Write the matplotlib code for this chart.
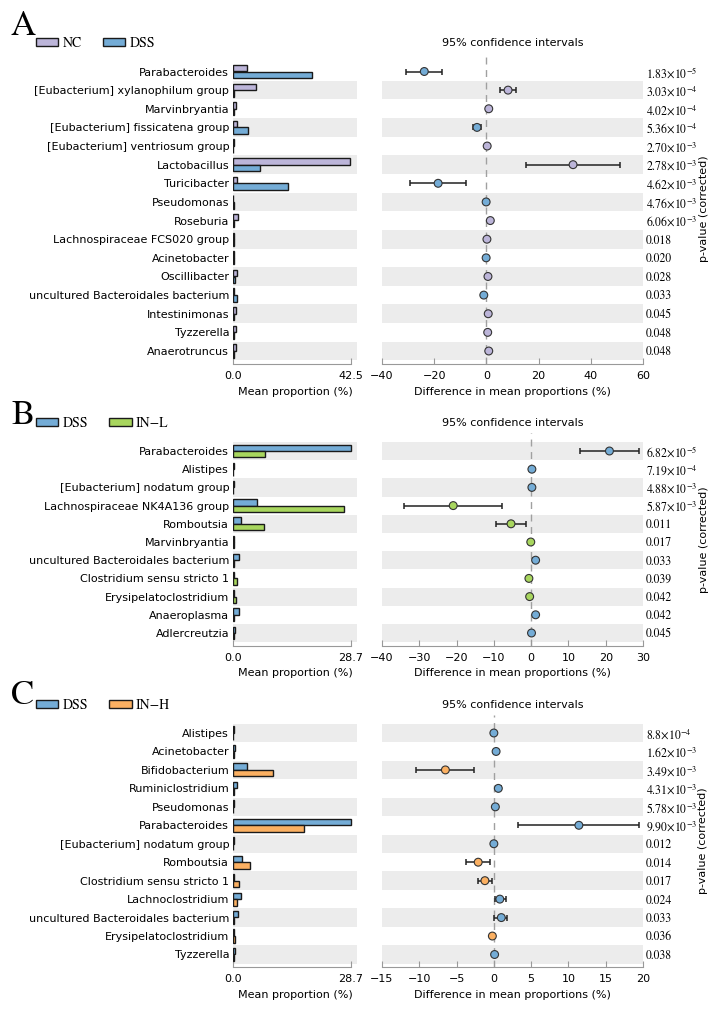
import matplotlib
matplotlib.use('Agg')
import matplotlib.pyplot as plt
import numpy as np

plt.rcParams['mathtext.fontset'] = 'stix'

# ---- panel A: NC vs DSS ----
A_taxa = ['Parabacteroides', '[Eubacterium] xylanophilum group', 'Marvinbryantia',
          '[Eubacterium] fissicatena group', '[Eubacterium] ventriosum group', 'Lactobacillus',
          'Turicibacter', 'Pseudomonas', 'Roseburia', 'Lachnospiraceae FCS020 group',
          'Acinetobacter', 'Oscillibacter', 'uncultured Bacteroidales bacterium',
          'Intestinimonas', 'Tyzzerella', 'Anaerotruncus']
A_nc = [4.8, 8.2, 1.0, 1.4, 0.3, 42.2, 1.2, 0.05, 1.8, 0.3, 0.1, 1.2, 0.4, 1.0, 0.8, 1.1]
A_dss = [28.5, 0.1, 0.1, 5.2, 0.05, 9.6, 19.8, 0.15, 0.3, 0.1, 0.3, 0.6, 1.4, 0.3, 0.3, 0.3]
A_diff = [-23.8, 8.3, 0.9, -3.6, 0.3, 33.2, -18.5, -0.1, 1.5, 0.2, -0.1, 0.6, -1.0, 0.7, 0.5, 0.9]
A_lo = [-30.8, 5.4, 0.6, -5.1, 0.1, 15.2, -29.4, -0.3, 1.0, 0.0, -0.3, 0.3, -1.5, 0.4, 0.3, 0.6]
A_hi = [-16.9, 11.2, 1.2, -2.0, 0.5, 51.2, -7.7, 0.1, 2.0, 0.4, 0.1, 0.9, -0.5, 1.0, 0.7, 1.2]
A_p = ['1.83e-5', '3.03e-4', '4.02e-4', '5.36e-4', '2.70e-3', '2.78e-3', '4.62e-3', '4.76e-3',
       '6.06e-3', '0.018', '0.020', '0.028', '0.033', '0.045', '0.048', '0.048']

# ---- panel B: DSS vs IN-L ----
B_taxa = ['Parabacteroides', 'Alistipes', '[Eubacterium] nodatum group',
          'Lachnospiraceae NK4A136 group', 'Romboutsia', 'Marvinbryantia',
          'uncultured Bacteroidales bacterium', 'Clostridium sensu stricto 1',
          'Erysipelatoclostridium', 'Anaeroplasma', 'Adlercreutzia']
B_dss = [28.6, 0.2, 0.2, 5.9, 1.9, 0.05, 1.3, 0.1, 0.2, 1.3, 0.3]
B_inl = [7.8, 0.0, 0.0, 26.9, 7.5, 0.1, 0.1, 0.8, 0.6, 0.1, 0.2]
B_diff = [21.0, 0.2, 0.2, -20.9, -5.4, -0.1, 1.2, -0.6, -0.4, 1.2, 0.1]
B_lo = [13.1, 0.1, 0.1, -34.1, -9.4, -0.2, 0.6, -1.0, -0.7, 0.7, 0.0]
B_hi = [29.0, 0.3, 0.3, -7.9, -1.5, 0.0, 1.8, -0.2, -0.1, 1.7, 0.2]
B_p = ['6.82e-5', '7.19e-4', '4.88e-3', '5.87e-3', '0.011', '0.017', '0.033', '0.039',
       '0.042', '0.042', '0.045']

# ---- panel C: DSS vs IN-H ----
C_taxa = ['Alistipes', 'Acinetobacter', 'Bifidobacterium', 'Ruminiclostridium', 'Pseudomonas',
          'Parabacteroides', '[Eubacterium] nodatum group', 'Romboutsia',
          'Clostridium sensu stricto 1', 'Lachnoclostridium', 'uncultured Bacteroidales bacterium',
          'Erysipelatoclostridium', 'Tyzzerella']
C_dss = [0.1, 0.3, 3.3, 0.9, 0.2, 28.6, 0.1, 2.0, 0.1, 1.8, 1.1, 0.1, 0.3]
C_inh = [0.0, 0.1, 9.7, 0.2, 0.0, 17.3, 0.0, 4.1, 1.3, 1.0, 0.1, 0.3, 0.2]
C_diff = [0.0, 0.3, -6.5, 0.6, 0.2, 11.4, 0.0, -2.1, -1.2, 0.8, 1.0, -0.2, 0.1]
C_lo = [-0.1, 0.1, -10.5, 0.3, 0.1, 3.2, -0.1, -3.7, -2.1, 0.1, 0.0, -0.4, 0.0]
C_hi = [0.1, 0.5, -2.6, 0.9, 0.3, 19.5, 0.1, -0.5, -0.3, 1.6, 1.8, 0.0, 0.2]
C_p = ['8.8e-4', '1.62e-3', '3.49e-3', '4.31e-3', '5.78e-3', '9.90e-3', '0.012', '0.014',
       '0.017', '0.024', '0.033', '0.036', '0.038']

NC_COL = '#bcb5d9'
DSS_COL = '#74acd6'
INL_COL = '#a8d65e'
INH_COL = '#fbb062'
STRIPE = '#ececec'
EDGE = '#1a1a1a'

W, H = 715, 1015
fig = plt.figure(figsize=(7.15, 10.15), dpi=100)


def fx(px):
    return px / W


def fy(py):
    return 1 - py / H


def fmt_p(p):
    if 'e' in p:
        m, e = p.split('e')
        return r'$%s{\times}10^{%s}$' % (m, e)
    return p


def panel(taxa, g1, g2, diff, lo, hi, pvals, names, cols, bar_max, ci_lim, ci_step,
          row0, rown, letter, letter_x, letter_y):
    n = len(taxa)
    s = (rown - row0) / (n - 1)
    top = row0 - 1.0 * s
    bot = rown + 0.7 * s
    y = np.arange(n)[::-1]
    ylim = (-0.7, n - 1 + 1.0)
    g1 = np.array(g1)
    g2 = np.array(g2)
    diff = np.array(diff)
    lo = np.array(lo)
    hi = np.array(hi)

    # mean proportion bars
    axb = fig.add_axes([fx(233.3), fy(bot), fx(357) - fx(233.3), (bot - top) / H])
    for yy in y:
        if yy % 2 == 0:
            axb.axhspan(yy - 0.5, yy + 0.5, color=STRIPE, lw=0, zorder=0)
    b1 = axb.barh(y + 0.18, g1, height=0.35, color=cols[0], edgecolor=EDGE, lw=1, zorder=2)
    b2 = axb.barh(y - 0.18, g2, height=0.35, color=cols[1], edgecolor=EDGE, lw=1, zorder=2)
    axb.set_ylim(*ylim)
    axb.set_xlim(0, bar_max * 124 / 118)
    axb.set_yticks(y)
    axb.set_yticklabels(taxa, fontsize=8)
    axb.tick_params(axis='y', length=0, pad=3)
    axb.set_xticks([0, bar_max])
    axb.set_xticklabels(['0.0', '%.1f' % bar_max])
    axb.tick_params(axis='x', direction='in', length=4, color='#999999', labelsize=8, pad=5)
    for sp in ['left', 'right', 'top']:
        axb.spines[sp].set_visible(False)
    axb.spines['bottom'].set_color('#999999')
    axb.spines['bottom'].set_bounds(0, bar_max)
    axb.set_xlabel('Mean proportion (%)', fontsize=8, labelpad=4)

    # confidence intervals
    axc = fig.add_axes([fx(382), fy(bot), fx(643) - fx(382), (bot - top) / H])
    for yy in y:
        if yy % 2 == 0:
            axc.axhspan(yy - 0.5, yy + 0.5, color=STRIPE, lw=0, zorder=0)
    axc.axvline(0, color='#a0a0a0', ls=(0, (5, 4)), lw=1, zorder=1)
    axc.errorbar(diff, y, xerr=[diff - lo, hi - diff], fmt='none', ecolor='#222222',
                 elinewidth=1.1, capsize=2.5, capthick=1.1, zorder=2)
    pcol = [cols[0] if d >= 0 else cols[1] for d in diff]
    axc.scatter(diff, y, s=32, c=pcol, edgecolors='#333333', linewidths=0.8, zorder=3)
    axc.set_ylim(*ylim)
    axc.set_xlim(*ci_lim)
    axc.set_xticks(np.arange(ci_lim[0], ci_lim[1] + 0.1, ci_step))
    axc.set_yticks([])
    axc.tick_params(axis='x', direction='in', length=4, color='#999999', labelsize=8, pad=5)
    for sp in ['left', 'right', 'top']:
        axc.spines[sp].set_visible(False)
    axc.spines['bottom'].set_color('#999999')
    axc.set_xlabel('Difference in mean proportions (%)', fontsize=8, labelpad=4)
    fig.text(fx(512.5), fy(row0 - 28), '95% confidence intervals', ha='center', va='center',
             fontsize=8)

    # p-values on the right
    axp = axc.twinx()
    axp.set_ylim(*ylim)
    axp.set_yticks(y)
    axp.set_yticklabels([fmt_p(p) for p in pvals], fontsize=8.5, family='STIXGeneral')
    axp.tick_params(axis='y', length=0, pad=2)
    for sp in axp.spines.values():
        sp.set_visible(False)
    axp.set_ylabel('p-value (corrected)', fontsize=8, labelpad=1)

    fig.legend(handles=[b1, b2], labels=names, loc='center left',
               bbox_to_anchor=(fx(36), fy(row0 - 28)), ncol=2, frameon=False,
               prop={'family': 'STIXGeneral', 'size': 10}, handlelength=1.6,
               handleheight=0.5, handletextpad=0.3, columnspacing=1.55,
               borderpad=0, borderaxespad=0)
    fig.text(fx(letter_x), fy(letter_y), letter, fontsize=25, family='STIXGeneral',
             va='baseline', ha='left')


panel(A_taxa, A_nc, A_dss, A_diff, A_lo, A_hi, A_p, ['NC', 'DSS'], [NC_COL, DSS_COL],
      42.5, (-40, 60), 20, 71.5, 351, 'A', 10, 35)
panel(B_taxa, B_dss, B_inl, B_diff, B_lo, B_hi, B_p, ['DSS', 'IN\u2212L'], [DSS_COL, INL_COL],
      28.7, (-40, 30), 10, 451, 633, 'B', 11, 424)
panel(C_taxa, C_dss, C_inh, C_diff, C_lo, C_hi, C_p, ['DSS', 'IN\u2212H'], [DSS_COL, INH_COL],
      28.7, (-15, 20), 5, 733, 954.5, 'C', 11, 704)

fig.savefig('out.png', dpi=100)
